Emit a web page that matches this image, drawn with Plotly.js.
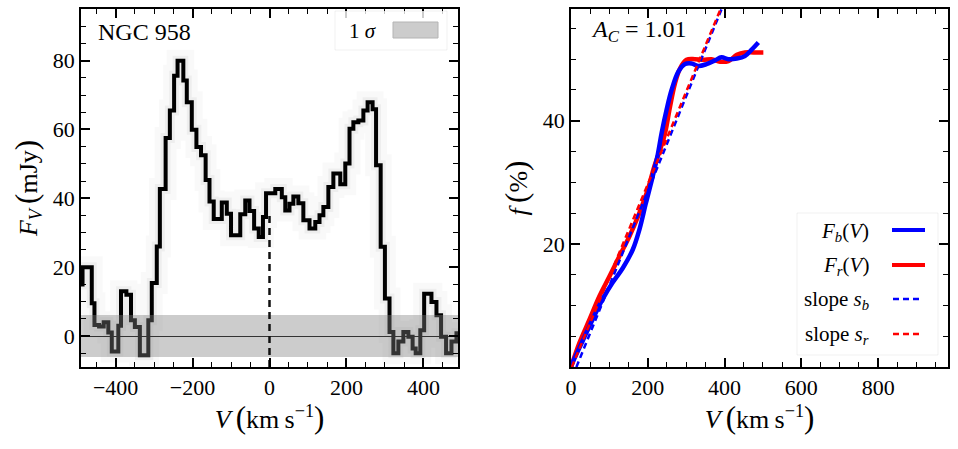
<!DOCTYPE html>
<html>
<head>
<meta charset="utf-8">
<script src="https://cdn.plot.ly/plotly-3.0.1.min.js"></script>
<style>html,body{margin:0;padding:0;background:#fff;}#chart{width:958px;height:449px;}</style>
</head>
<body>
<div id="chart"></div>
<script>
// ---------- DATA ----------
// Left panel: HI line profile, step edges (km/s) and flux (mJy)
const specV = [-490,-486,-462,-455,-443,-431,-419,-410,-393,-386,-372,-360,-350,-337,-315,-306,-293,-285,-270,-259,-248,-239,-224,-215,-202,-190,-178,-166,-156,-145,-124,-111,-100,-76,-63,-52,-40,-28,-17,-9,15,32,41,52,62,75,88,104,119,130,140,153,166,184,197,208,218,231,244,255,268,277,289,300,312,322,335,348,361,372,380,392,402,421,434,446,459,473,486,492];
const specF = [15,20,9.5,3.2,2.8,4.0,1.0,-4.5,3.0,13,12,4.6,2.6,-5.6,4.6,15.4,26,42.7,57.5,65.5,75.6,80,74.2,67.9,59.9,54.9,52.5,45.3,39.1,34.0,38.8,35.5,29.3,35.4,39.4,36.3,31.2,28.8,34.6,41.5,42.7,40.3,36.5,38.4,40.5,38.6,33.6,31.2,33.1,35.1,37.5,43.3,47.2,44.1,50.1,60.2,62.1,62.6,65.5,67.9,65.9,49.6,25.9,10.9,1.2,-5.0,-1.6,1.2,-0.2,-3.6,-5.0,1.7,12.3,9.9,6.0,-0.2,-5.0,-1.6,0.8,0.8];
const sigma = 6.1;            // 1 sigma noise level (mJy)
const bandV = [-600, 600];    // band spans the whole axis
const sysV = [0, 0];          // systemic velocity marker
const sysF = [-9, 35];

// Right panel: cumulative flux curves
const blueV = [0,4,30,56,82,108,135,161,178,195,213,226,236,249,262,280,297,314,332,353,375,392,410,432,453,470,488];
const blueF = [0,0.7,4.2,7.7,11,13.7,16.1,19.1,22.3,26.6,31,34.5,38,41.8,45,48,49.2,49.3,48.9,49.2,49.8,50.3,50,50.1,50.5,51.5,52.7];
const redV  = [0,22,48,74,100,126,152,178,200,217,232,245,258,271,284,301,323,345,366,388,410,432,453,475,501];
const redF  = [0,3.95,7.7,11.5,14.7,18,21.2,25,28.8,32.6,35.3,38,42.3,46.1,48.5,49.9,50,49.9,50,49.6,49.7,50.7,51.1,51.1,51.1];
const slopeBV = [14, 420];
const slopeBF = [0, 62.4];
const slopeRV = [2, 420];
const slopeRF = [0, 62.7];

const galaxy = 'NGC 958';
const acText = '<i>A<sub>C</sub></i> = 1.01';

// ---------- HELPERS ----------
const T = 9, B = 82, HH = 449, WW = 958;
const px = x => x / WW;
const py = y => (HH - B - y) / (HH - T - B);
const FONT = '"Liberation Serif", "DejaVu Serif", serif';
const LP = '<span style="font-size:31px">(</span>';
const RP = '<span style="font-size:31px">)</span>';
const velTitle = '<i>V</i>\u2009' + LP + 'km\u2009s<sup>−1</sup>' + RP;

const bandX = [bandV[0], bandV[1], bandV[1], bandV[0]];
const bandY = [sigma, sigma, -sigma, -sigma];

const traces = [
  // faint halo around the profile (posterior spread)
  {x: specV, y: specF, xaxis: 'x', yaxis: 'y', mode: 'lines', line: {shape: 'hv', color: 'rgba(0,0,0,0.025)', width: 22}, hoverinfo: 'skip', showlegend: false},
  {x: specV, y: specF, xaxis: 'x', yaxis: 'y', mode: 'lines', line: {shape: 'hv', color: 'rgba(0,0,0,0.045)', width: 10}, hoverinfo: 'skip', showlegend: false},
  {x: specV, y: specF, xaxis: 'x', yaxis: 'y', mode: 'lines', name: 'profile', line: {shape: 'hv', color: '#000', width: 4}, showlegend: false},
  {x: bandX, y: bandY, xaxis: 'x', yaxis: 'y', mode: 'lines', fill: 'toself', fillcolor: 'rgba(128,128,128,0.4)', line: {width: 0}, name: '1 σ', showlegend: false},
  {x: sysV, y: sysF, xaxis: 'x', yaxis: 'y', mode: 'lines', line: {color: '#111', width: 2.5, dash: '7px,5px'}, showlegend: false},

  {x: redV, y: redF, xaxis: 'x2', yaxis: 'y2', mode: 'lines', name: 'F_r(V)', line: {shape: 'spline', color: '#ff0000', width: 4.5}, showlegend: false},
  {x: blueV, y: blueF, xaxis: 'x2', yaxis: 'y2', mode: 'lines', name: 'F_b(V)', line: {shape: 'spline', color: '#0000ff', width: 4.5}, showlegend: false},
  {x: slopeBV, y: slopeBF, xaxis: 'x2', yaxis: 'y2', mode: 'lines', name: 'slope s_b', line: {color: '#0000ff', width: 2.5, dash: '6px,4px'}, showlegend: false},
  {x: slopeRV, y: slopeRF, xaxis: 'x2', yaxis: 'y2', mode: 'lines', name: 'slope s_r', line: {color: '#ff0000', width: 2.5, dash: '6px,4px'}, showlegend: false}
];

const axisBase = {
  showline: true, linecolor: '#000', linewidth: 1.5, mirror: 'allticks',
  ticks: 'inside', ticklen: 9, tickwidth: 2, tickcolor: '#000',
  showgrid: false, zeroline: false,
  tickfont: {family: FONT, size: 22, color: '#000'},
  minor: {ticks: 'inside', ticklen: 5, tickwidth: 1, tickcolor: '#000'}
};
function ax(o) { const a = JSON.parse(JSON.stringify(axisBase)); return Object.assign(a, o, {minor: Object.assign({}, axisBase.minor, o.minor || {})}); }

const layout = {
  width: WW, height: HH,
  margin: {l: 0, r: 0, t: T, b: B, pad: 0},
  paper_bgcolor: '#fff', plot_bgcolor: '#fff',
  font: {family: FONT, color: '#000'},
  showlegend: false,
  xaxis: ax({domain: [px(81), px(458)], range: [-490, 490], tick0: 0, dtick: 200, minor: {dtick: 50},
    title: {text: velTitle, font: {family: FONT, size: 26}, standoff: 6}}),
  yaxis: ax({domain: [0, 1], range: [-9, 95], tick0: 0, dtick: 20, minor: {dtick: 5},
    zeroline: true, zerolinecolor: '#000', zerolinewidth: 1,
    title: {text: '<i>F<sub>V</sub></i>\u2009' + LP + 'mJy' + RP, font: {family: FONT, size: 26}, standoff: 8}}),
  xaxis2: ax({domain: [px(571), px(948)], range: [0, 982], tick0: 0, dtick: 200, minor: {dtick: 50}, anchor: 'y2',
    title: {text: velTitle, font: {family: FONT, size: 26}, standoff: 6}}),
  yaxis2: ax({domain: [0, 1], range: [0.02, 58.15], tick0: 0, dtick: 20, minor: {dtick: 5}, anchor: 'x2',
    title: {text: '<i>f</i>\u2009' + LP + '%' + RP, font: {family: FONT, size: 26}, standoff: 8}}),
  shapes: [
    // left legend frame + patch
    {type: 'rect', xref: 'paper', yref: 'paper', x0: px(335), x1: px(447), y0: py(11), y1: py(50), line: {color: 'rgba(0,0,0,0.06)', width: 1}, fillcolor: 'rgba(255,255,255,0.8)', layer: 'above'},
    {type: 'rect', xref: 'paper', yref: 'paper', x0: px(393), x1: px(438), y0: py(22), y1: py(38), line: {color: '#b4b4b4', width: 1}, fillcolor: '#cccccc', layer: 'above'},
    // right legend frame + samples
    {type: 'rect', xref: 'paper', yref: 'paper', x0: px(797), x1: px(938), y0: py(213), y1: py(355), line: {color: 'rgba(0,0,0,0.06)', width: 1}, fillcolor: 'rgba(255,255,255,0.8)', layer: 'above'},
    {type: 'line', xref: 'paper', yref: 'paper', x0: px(892), x1: px(925), y0: py(230), y1: py(230), line: {color: '#0000ff', width: 4}, layer: 'above'},
    {type: 'line', xref: 'paper', yref: 'paper', x0: px(892), x1: px(925), y0: py(265), y1: py(265), line: {color: '#ff0000', width: 4}, layer: 'above'},
    {type: 'line', xref: 'paper', yref: 'paper', x0: px(893), x1: px(920), y0: py(299), y1: py(299), line: {color: '#0000ff', width: 2.5, dash: '6px,4px'}, layer: 'above'},
    {type: 'line', xref: 'paper', yref: 'paper', x0: px(893), x1: px(920), y0: py(334), y1: py(334), line: {color: '#ff0000', width: 2.5, dash: '6px,4px'}, layer: 'above'}
  ],
  annotations: [
    {xref: 'paper', yref: 'paper', x: px(96), y: py(32), xanchor: 'left', yanchor: 'middle', showarrow: false, text: galaxy, font: {family: FONT, size: 24}},
    {xref: 'paper', yref: 'paper', x: px(379), y: py(31), xanchor: 'right', yanchor: 'middle', showarrow: false, text: '1 <i>σ</i>', font: {family: FONT, size: 21}},
    {xref: 'paper', yref: 'paper', x: px(589), y: py(31), xanchor: 'left', yanchor: 'middle', showarrow: false, text: acText, font: {family: FONT, size: 24}},
    {xref: 'paper', yref: 'paper', x: px(871), y: py(232), xanchor: 'right', yanchor: 'middle', showarrow: false, text: '<i>F<sub>b</sub></i>(<i>V</i>)', font: {family: FONT, size: 21}},
    {xref: 'paper', yref: 'paper', x: px(871), y: py(266), xanchor: 'right', yanchor: 'middle', showarrow: false, text: '<i>F<sub>r</sub></i>(<i>V</i>)', font: {family: FONT, size: 21}},
    {xref: 'paper', yref: 'paper', x: px(871), y: py(300), xanchor: 'right', yanchor: 'middle', showarrow: false, text: 'slope <i>s<sub>b</sub></i>', font: {family: FONT, size: 21}},
    {xref: 'paper', yref: 'paper', x: px(871), y: py(335), xanchor: 'right', yanchor: 'middle', showarrow: false, text: 'slope <i>s<sub>r</sub></i>', font: {family: FONT, size: 21}}
  ]
};

Plotly.newPlot('chart', traces, layout, {displayModeBar: false});
</script>
</body>
</html>
